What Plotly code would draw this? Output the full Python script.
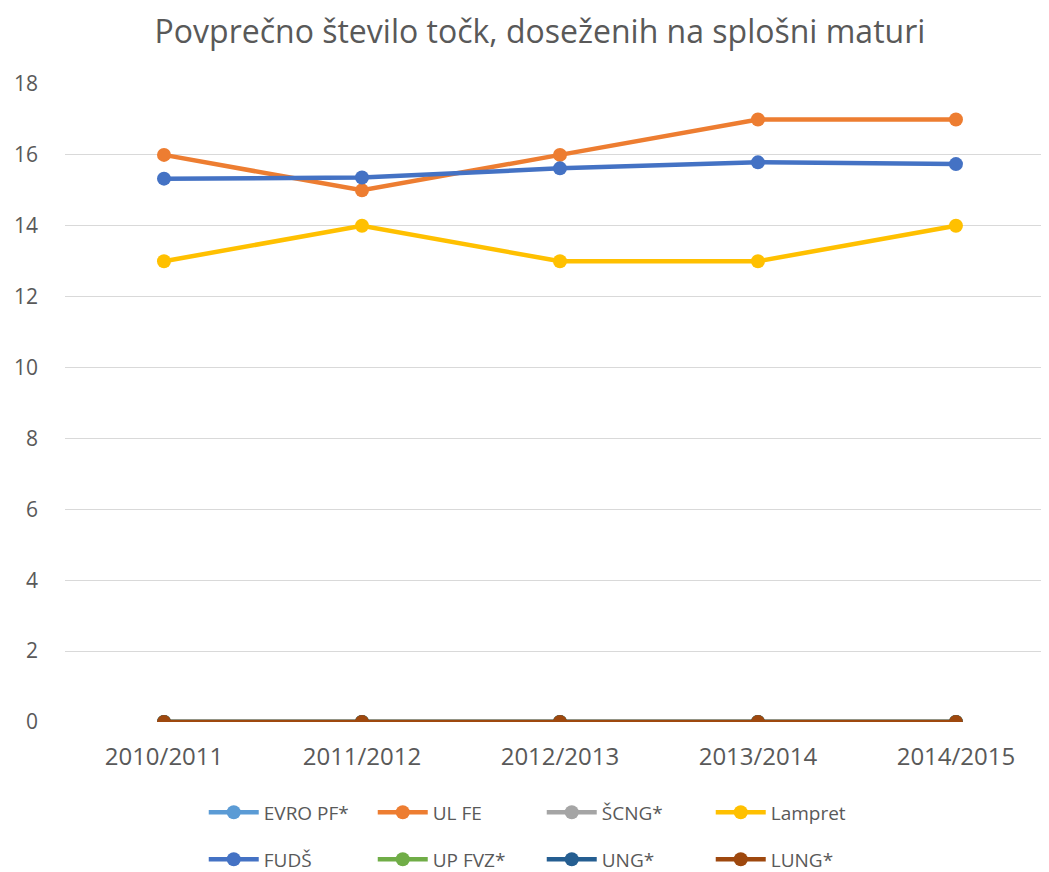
import plotly.graph_objects as go

years = ["2010/2011", "2011/2012", "2012/2013", "2013/2014", "2014/2015"]
evro_pf = [0, 0, 0, 0, 0]
ul_fe = [16, 15, 16, 17, 17]
scng = [0, 0, 0, 0, 0]
lampret = [13, 14, 13, 13, 14]
fuds = [15.33, 15.36, 15.62, 15.79, 15.74]
up_fvz = [0, 0, 0, 0, 0]
ung = [0, 0, 0, 0, 0]
lung = [0, 0, 0, 0, 0]

series = [
    ("EVRO PF*", evro_pf, "#5B9BD5", "legend"),
    ("UL FE", ul_fe, "#ED7D31", "legend"),
    ("ŠCNG*", scng, "#A5A5A5", "legend"),
    ("Lampret", lampret, "#FFC000", "legend"),
    ("FUDŠ", fuds, "#4472C4", "legend2"),
    ("UP FVZ*", up_fvz, "#70AD47", "legend2"),
    ("UNG*", ung, "#255E91", "legend2"),
    ("LUNG*", lung, "#9E480E", "legend2"),
]

fig = go.Figure()
for name, vals, color, lg in series:
    fig.add_trace(go.Scatter(
        x=years, y=vals, name=name, mode="lines+markers",
        line=dict(color=color, width=4.5),
        marker=dict(color=color, size=14),
        legend=lg,
    ))

font_color = "#595959"
fam = "Open Sans, Noto Sans, sans-serif"
legend_common = dict(
    orientation="h", xanchor="left", yanchor="top",
    entrywidth=104, entrywidthmode="pixels",
    font=dict(size=19, color=font_color, family=fam),
    bgcolor="rgba(0,0,0,0)", itemwidth=50,
)
# page body has an 8px default margin, so the figure is sized 8px smaller
fig.update_layout(
    width=1041, height=864,
    paper_bgcolor="white", plot_bgcolor="white",
    margin=dict(l=57, r=0, t=76, b=150, autoexpand=False),
    title=dict(text="Povprečno število točk, doseženih na splošni maturi",
               x=0.511, xanchor="center", y=0.972, yanchor="middle",
               font=dict(size=32, color=font_color, family=fam)),
    font=dict(family=fam, color=font_color),
    showlegend=True,
    legend=dict(x=0.141, y=-0.112, **legend_common),
    legend2=dict(x=0.141, y=-0.1855, **legend_common),
    xaxis=dict(type="category", range=[-0.5, 4.47], showgrid=False,
               showline=False, zeroline=False, ticks="", automargin=False,
               tickfont=dict(size=24, color=font_color),
               ticklabelstandoff=18),
    yaxis=dict(range=[0, 18], dtick=2, showgrid=True, gridcolor="#D9D9D9",
               gridwidth=1, zeroline=False, showline=False, ticks="",
               automargin=False, ticklabelstandoff=26,
               tickfont=dict(size=21, color=font_color)),
)

fig.write_html("out.html")
